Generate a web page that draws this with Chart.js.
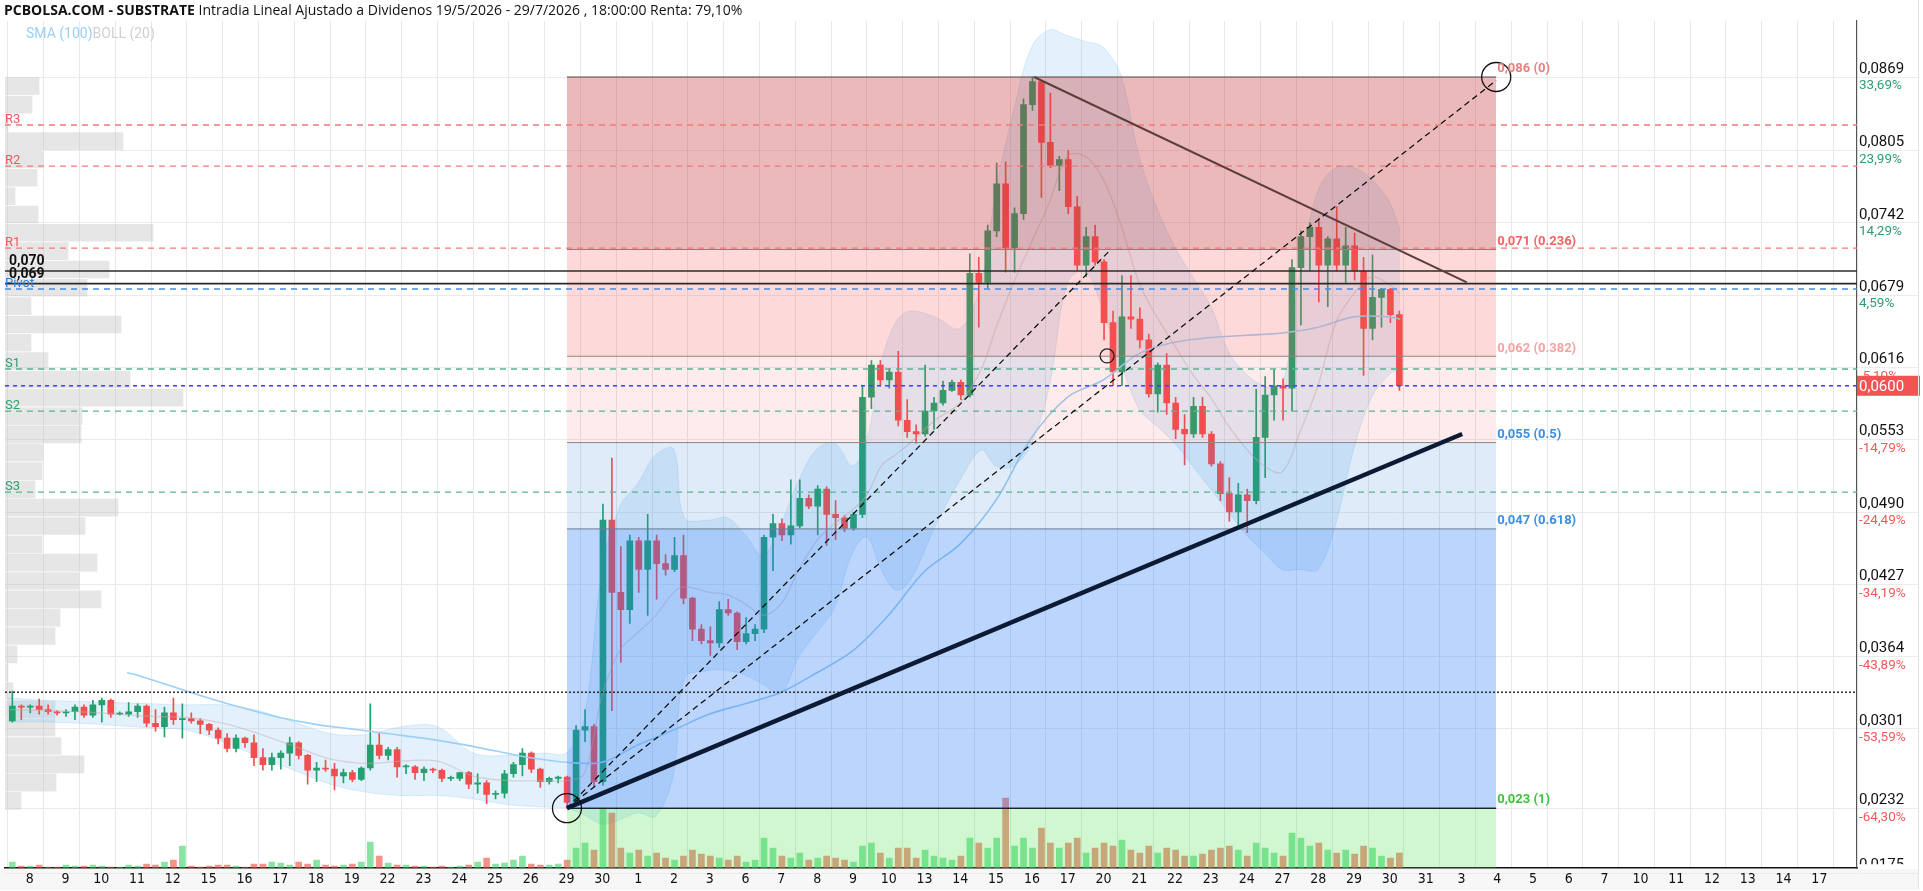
<!DOCTYPE html>
<html><head><meta charset="utf-8">
<script src="https://cdn.jsdelivr.net/npm/chart.js@4.4.1/dist/chart.umd.min.js"></script>
<style>html,body{margin:0;padding:0;background:#fff;overflow:hidden}#wrap{position:relative;width:1923px;height:891px}</style>
</head><body><div id="wrap"><canvas id="c" width="1923" height="891"></canvas></div>
<script>
// ---------------- DATA ----------------
const dayLabels = ['8','9','10','11','12','15','16','17','18','19','22','23','24','25','26','29','30','1','2','3','6','7','8','9','10','13','14','15','16','17','20','21','22','23','24','27','28','29','30','31','3','4','5','6','7','10','11','12','13','14','17'];

const candleOpen = [
.0308,.0321,.0320,.0321, .0318,.0316,.0315,.0316, .0320,.0313,.0322,.0326, .0314,.0314,.0316,.0321,
.0306,.0303,.0315,.0309, .0310,.0308,.0305,.0300, .0293,.0284,.0293,.0289, .0276,.0270,.0276,.0280,
.0289,.0278,.0265,.0267, .0266,.0260,.0263,.0257, .0267,.0287,.0278,.0283, .0268,.0268,.0263,.0266,
.0265,.0258,.0258,.0263, .0253,.0254,.0244,.0245, .0262,.0270,.0280,.0266, .0255,.0258,.0259,.0237,
.0300,.0303,.0255,.0483, .0420,.0405,.0465,.0440, .0465,.0445,.0440,.0452, .0415,.0388,.0378,.0376,
.0405,.0402,.0377,.0384, .0388,.0468,.0480,.0470, .0478,.0502,.0495,.0510, .0488,.0485,.0476,.0488,
.0590,.0618,.0605,.0612, .0570,.0560,.0558,.0578, .0585,.0596,.0603,.0592, .0698,.0690,.0735,.0776,
.0720,.0750,.0845,.0865, .0812,.0792,.0797,.0756, .0705,.0730,.0708,.0655, .0612,.0660,.0658,.0640,
.0593,.0618,.0585,.0562, .0558,.0582,.0558,.0532, .0506,.0490,.0505,.0500, .0555,.0592,.0600,.0598,
.0703,.0730,.0738,.0705, .0728,.0705,.0722,.0700, .0650,.0677,.0684,.0662];
const candleHigh = [
.0334,.0322,.0322,.0327, .0322,.0317,.0318,.0322, .0322,.0326,.0328,.0327, .0316,.0324,.0323,.0322,
.0318,.0320,.0328,.0323, .0315,.0310,.0306,.0302, .0297,.0296,.0294,.0296, .0284,.0280,.0282,.0294,
.0290,.0279,.0272,.0274, .0271,.0266,.0265,.0268, .0323,.0297,.0285,.0285, .0270,.0269,.0268,.0267,
.0266,.0260,.0263,.0264, .0262,.0256,.0247,.0265, .0272,.0284,.0281,.0267, .0259,.0260,.0260,.0304,
.0318,.0305,.0497,.0537, .0460,.0470,.0468,.0488, .0470,.0453,.0468,.0470, .0416,.0392,.0390,.0412,
.0414,.0403,.0398,.0392, .0470,.0488,.0484,.0518, .0518,.0505,.0513,.0512, .0500,.0487,.0490,.0600,
.0622,.0622,.0615,.0630, .0588,.0566,.0618,.0590, .0604,.0605,.0605,.0715, .0712,.0740,.0794,.0795,
.0755,.0850,.0869,.0866, .0855,.0800,.0805,.0765, .0738,.0740,.0710,.0665, .0696,.0696,.0668,.0645,
.0620,.0628,.0590,.0575, .0590,.0590,.0560,.0534, .0520,.0515,.0510,.0597, .0608,.0614,.0606,.0710,
.0735,.0742,.0746,.0730, .0756,.0738,.0733,.0712, .0714,.0685,.0685,.0665];
const candleLow = [
.0307,.0309,.0315,.0314, .0314,.0313,.0312,.0309, .0311,.0311,.0307,.0311, .0313,.0312,.0311,.0303,
.0299,.0294,.0305,.0293, .0306,.0297,.0296,.0288, .0281,.0281,.0285,.0269, .0265,.0265,.0266,.0269,
.0275,.0253,.0255,.0264, .0248,.0254,.0255,.0256, .0265,.0275,.0274,.0259, .0262,.0257,.0256,.0263,
.0255,.0256,.0256,.0249, .0245,.0236,.0240,.0241, .0259,.0260,.0263,.0250, .0253,.0254,.0232,.0235,
.0290,.0251,.0252,.0317, .0359,.0393,.0420,.0400, .0414,.0435,.0438,.0410, .0378,.0375,.0365,.0372,
.0400,.0370,.0375,.0378, .0385,.0439,.0465,.0462, .0476,.0493,.0470,.0461, .0466,.0473,.0474,.0485,
.0580,.0600,.0598,.0565, .0555,.0550,.0556,.0562, .0583,.0595,.0588,.0590, .0651,.0685,.0730,.0699,
.0699,.0745,.0840,.0764, .0790,.0770,.0750,.0700, .0695,.0705,.0640,.0600, .0600,.0650,.0633,.0590,
.0577,.0575,.0554,.0531, .0555,.0555,.0530,.0500, .0482,.0476,.0472,.0497, .0520,.0570,.0570,.0578,
.0653,.0700,.0673,.0669, .0700,.0690,.0692,.0609, .0640,.0651,.0655,.0596];
const candleClose = [
.0321,.0320,.0321,.0318, .0316,.0315,.0316,.0320, .0313,.0322,.0326,.0314, .0314,.0316,.0321,.0306,
.0303,.0315,.0309,.0310, .0308,.0305,.0300,.0293, .0284,.0293,.0289,.0276, .0270,.0276,.0280,.0289,
.0278,.0265,.0267,.0266, .0260,.0263,.0257,.0267, .0287,.0278,.0283,.0268, .0268,.0263,.0266,.0265,
.0258,.0258,.0263,.0253, .0254,.0244,.0245,.0262, .0270,.0280,.0266,.0255, .0258,.0259,.0237,.0300,
.0303,.0255,.0483,.0420, .0405,.0465,.0440,.0465, .0445,.0440,.0452,.0415, .0388,.0378,.0376,.0405,
.0402,.0377,.0384,.0388, .0468,.0480,.0470,.0478, .0502,.0495,.0510,.0488, .0485,.0476,.0488,.0590,
.0618,.0605,.0612,.0570, .0560,.0558,.0578,.0585, .0596,.0603,.0592,.0698, .0690,.0735,.0776,.0720,
.0750,.0845,.0865,.0812, .0792,.0797,.0756,.0705, .0730,.0708,.0655,.0612, .0660,.0658,.0640,.0593,
.0618,.0585,.0562,.0558, .0582,.0558,.0532,.0506, .0490,.0505,.0500,.0555, .0592,.0600,.0598,.0703,
.0730,.0738,.0705,.0728, .0705,.0722,.0700,.0650, .0677,.0684,.0662,.0600];
const candleVolume = [
6,2,2,3, 1,1,3,2, 2,3,2,1, 1,3,2,4, 3,6,8,22, 2,1,2,3, 3,2,1,4, 4,6,5,3,
6,4,8,3, 2,3,4,6, 26,12,5,3, 3,2,2,1, 2,1,2,3, 6,10,4,5, 8,12,4,3, 3,4,8,20,
25,18,60,55, 20,15,18,12, 15,10,8,12, 18,14,12,10, 8,12,6,8, 30,20,12,10, 15,8,10,12, 10,8,6,22,
25,15,10,20, 20,10,18,12, 10,8,12,30, 25,20,30,70, 22,30,20,40, 25,20,25,30, 15,20,25,22, 28,18,15,22,
15,20,18,12, 12,14,18,20, 22,18,12,25, 20,15,12,35, 30,22,25,18, 15,18,14,22, 20,12,10,15];

// SMA(100)
const smaDay = [2.73,3,4,5,6,7,8,9,10,11,12,13,14,15,16,17,18,19,20,21,22,23,24,25,26,27,28,29,30,31,32,33,34,35,36,37,38,38.3];
const smaVal = [.0350,.0348,.0338,.0328,.0319,.0311,.0305,.0301,.0297,.0293,.0288,.0282,.0276,.0272,.0272,.0287,.0300,.0314,.0323,.0333,.0350,.0369,.0400,.0438,.0462,.0500,.0555,.0590,.0605,.0628,.0638,.0642,.0644,.0646,.0651,.0660,.0660,.0658];

// Bollinger (20)
const bbDay = [-0.6,0.4,1.4,2.4,3.4,4.4,5.4,6.4,7.4,8.4,9.4,10.4,11.4,12.4,13.4,14.4,15.0,15.5,16.0,16.5,17.0,17.5,18.0,18.3,19.0,19.5,20.0,20.5,21.0,21.5,22.0,22.5,23.0,23.4,23.8,24.2,24.6,25.3,26.0,26.6,27.0,27.5,28.0,28.5,29.0,29.5,30.0,30.5,31.0,31.5,32.0,32.5,33.0,33.5,34.0,34.5,35.0,35.5,36.0,36.5,37.0,37.5,38.0,38.3];
const bbUpper = [.0328,.0326,.0325,.0324,.0323,.0322,.0322,.0317,.0307,.0297,.0296,.0303,.0303,.0280,.0278,.0280,.0280,.0310,.0440,.0495,.0515,.0540,.0545,.0485,.0483,.0485,.0470,.0452,.0480,.0518,.0545,.0550,.0530,.0553,.0620,.0655,.0665,.0660,.0650,.0690,.0770,.0840,.0895,.0910,.0905,.0900,.0895,.0870,.0800,.0755,.0721,.0695,.0670,.0630,.0610,.0600,.0600,.0700,.0770,.0790,.0790,.0780,.0760,.0735];
const bbMiddle = [.0318,.0317,.0316,.0314,.0312,.0311,.0306,.0297,.0286,.0275,.0271,.0273,.0273,.0260,.0256,.0256,.0256,.0262,.0330,.0370,.0385,.0400,.0420,.0425,.0420,.0418,.0410,.0400,.0410,.0440,.0465,.0480,.0492,.0505,.0530,.0540,.0550,.0570,.0585,.0615,.0650,.0690,.0725,.0760,.0800,.0800,.0780,.0740,.0690,.0660,.0635,.0610,.0590,.0565,.0545,.0530,.0525,.0560,.0600,.0655,.0680,.0695,.0688,.0680];
const bbLower = [.0307,.0307,.0306,.0304,.0302,.0300,.0290,.0277,.0265,.0253,.0246,.0243,.0243,.0240,.0235,.0233,.0232,.0226,.0218,.0222,.0228,.0225,.0262,.0345,.0352,.0352,.0348,.0340,.0332,.0364,.0385,.0407,.0455,.0468,.0440,.0422,.0430,.0477,.0518,.0544,.0530,.0530,.0550,.0600,.0690,.0700,.0665,.0620,.0580,.0565,.0550,.0530,.0510,.0490,.0470,.0455,.0440,.0440,.0440,.0480,.0545,.0590,.0610,.0615];

// Volume profile (price bins and relative volume)
const profPrice = [.08610,.08450,.08291,.08131,.07971,.07812,.07652,.07492,.07333,.07173,.07013,.06854,.06694,.06534,.06375,.06215,.06055,.05896,.05736,.05576,.05417,.05257,.05097,.04938,.04778,.04618,.04459,.04299,.04139,.03980,.03820,.03660,.03501,.03341,.03181,.03022,.02862,.02702,.02543,.02383];
const profVolume = [34,27,3,118,38,32,10,33,148,63,104,82,26,116,26,43,125,178,77,76,38,37,30,113,80,37,92,74,96,55,50,12,3,8,50,50,56,79,51,16];

// Right axis ticks
const priceTicks = [.0869,.0805,.0742,.0679,.0616,.0553,.0490,.0427,.0364,.0301,.0232,.0175];
const priceTickPct = ['33,69%','23,99%','14,29%','4,59%','-5,10%','-14,79%','-24,49%','-34,19%','-43,89%','-53,59%','-64,30%','-73,07%'];

// Fibonacci retracement
const fibStart = [15.02, 0.0232];
const fibEnd = [40.98, 0.0869];
const fibPrices = [0.0869, 0.07187, 0.06257, 0.05505, 0.04753, 0.0232];
const fibText = ['0,086 (0)','0,071 (0.236)','0,062 (0.382)','0,055 (0.5)','0,047 (0.618)','0,023 (1)'];

// Pivot points
const pivotNames = ['R3','R2','R1','Pivot','S1','S2','S3'];
const pivotPrices = [0.08272, 0.07914, 0.07200, 0.06843, 0.06146, 0.05780, 0.05074];
// Horizontal user lines
const userLines = [0.0700, 0.0689];
const userLineText = ['0,070','0,069'];
const lastPrice = 0.0600;
const dottedLevel = 0.0333;
// Trend lines [x0,y0,x1,y1]
const thickTrend = [15.02, 0.0232, 40.03, 0.0558];
const dashTrend1 = [15.02, 0.0232, 30.19, 0.0718];
const dashTrend2 = [15.02, 0.0232, 40.98, 0.0866];
const downTrend = [28.07, 0.0869, 40.16, 0.0690];
const smallMarker = [30.11, 0.0626];

// ---------------- CHART ----------------
const X_MIN = -0.68, X_MAX = 51.06;
const GREEN = '#23a06d', RED = '#f14f4f';
const candleX = candleOpen.map((_, i) => Math.floor(i / 4) - 0.6 + ((i % 4) + 0.5) * 0.25);
const isUp = candleOpen.map((o, i) => candleClose[i] >= o);

const hline = (y, color, width, dash, order) => ({
  type: 'line', data: [{x: X_MIN, y}, {x: X_MAX, y}], borderColor: color, borderWidth: width,
  borderDash: dash, pointRadius: 0, fill: false, order
});
const seg = (a, color, width, dash, order) => ({
  type: 'line', data: [{x: a[0], y: a[1]}, {x: a[2], y: a[3]}], borderColor: color, borderWidth: width,
  borderDash: dash, pointRadius: 0, fill: false, order
});

const zoneFill = ['rgba(200,60,60,0.36)','rgba(250,80,80,0.22)','rgba(250,80,80,0.11)','rgba(60,130,220,0.16)','rgba(40,120,245,0.31)'];
const zoneLine = ['#5a4444','#8a8a8a','#8a8a8a','#8a8a8a','#6f7b8a'];

const datasets = [];
datasets.push({type: 'bar', indexAxis: 'y', xAxisID: 'xProf', yAxisID: 'y', grouped: false,
  data: profPrice.map((p, i) => ({y: p, x: profVolume[i]})), backgroundColor: 'rgba(190,190,190,0.38)',
  barThickness: 17, borderWidth: 0, order: 100});
datasets.push({type: 'line', data: bbDay.map((d, i) => ({x: d, y: bbUpper[i]})), borderColor: 'rgba(120,190,240,0.25)',
  borderWidth: 1, pointRadius: 0, tension: 0.35, fill: '+1', backgroundColor: 'rgba(110,185,240,0.2)', order: 95});
datasets.push({type: 'line', data: bbDay.map((d, i) => ({x: d, y: bbLower[i]})), borderColor: 'rgba(120,190,240,0.25)',
  borderWidth: 1, pointRadius: 0, tension: 0.35, fill: false, order: 95});
datasets.push({type: 'bar', xAxisID: 'x', yAxisID: 'yVol', grouped: false,
  data: candleX.map((x, i) => ({x, y: candleVolume[i]})),
  backgroundColor: isUp.map(u => u ? 'rgba(40,205,90,0.55)' : 'rgba(235,75,60,0.6)'), barThickness: 6, borderWidth: 0, order: 90});
datasets.push({type: 'bar', xAxisID: 'x', yAxisID: 'y', grouped: false,
  data: candleX.map((x, i) => ({x, y: [candleLow[i], candleHigh[i]]})),
  backgroundColor: isUp.map(u => u ? GREEN : RED), barThickness: 1, borderWidth: 0, order: 80});
datasets.push({type: 'bar', xAxisID: 'x', yAxisID: 'y', grouped: false,
  data: candleX.map((x, i) => ({x, y: [candleOpen[i], candleClose[i]]})),
  backgroundColor: isUp.map(u => u ? GREEN : RED), barThickness: 6, minBarLength: 1, borderWidth: 0, order: 79});
datasets.push({type: 'line', data: bbDay.map((d, i) => ({x: d, y: bbMiddle[i]})), borderColor: 'rgba(200,170,170,0.45)',
  borderWidth: 1.3, pointRadius: 0, tension: 0.35, fill: false, order: 70});
datasets.push({type: 'line', data: smaDay.map((d, i) => ({x: d, y: smaVal[i]})), borderColor: '#9dd0f7',
  borderWidth: 1.6, pointRadius: 0, tension: 0.35, fill: false, order: 70});
for (let i = 0; i < 5; i++) {
  datasets.push({type: 'line', data: [{x: fibStart[0], y: fibPrices[i]}, {x: fibEnd[0], y: fibPrices[i]}],
    borderColor: zoneLine[i], borderWidth: 1, pointRadius: 0, fill: {value: fibPrices[i + 1]},
    backgroundColor: zoneFill[i], order: 60});
}
datasets.push({type: 'line', data: [{x: fibStart[0], y: fibPrices[5]}, {x: fibEnd[0], y: fibPrices[5]}],
  borderColor: '#1c1c1c', borderWidth: 1.5, pointRadius: 0, fill: 'start', backgroundColor: 'rgba(70,225,70,0.25)', order: 60});
const pivotColor = ['#f27a7a','#f27a7a','#f27a7a','#4a8fe0','#5cb38f','#5cb38f','#5cb38f'];
const pivotTextColor = ['#f05a5a','#f05a5a','#f05a5a','#2f7fdc','#2e9e6e','#2e9e6e','#2e9e6e'];
pivotPrices.forEach((p, i) => datasets.push(hline(p, pivotColor[i], 1.3, [6, 5], 50)));
userLines.forEach(p => datasets.push(hline(p, '#2b2b2b', 1.6, [], 49)));
datasets.push(hline(lastPrice, '#4444f0', 1.6, [4, 4], 49));
datasets.push(hline(dottedLevel, '#333', 1.6, [2, 2], 49));
datasets.push(seg(thickTrend, '#0d1a33', 4.5, [], 40));
datasets.push(seg(dashTrend1, '#111', 1.3, [6, 4], 40));
datasets.push(seg(dashTrend2, '#111', 1.3, [6, 4], 40));
datasets.push(seg(downTrend, '#5b3d3d', 2, [], 40));
datasets.push({type: 'scatter', data: [{x: fibStart[0], y: fibStart[1]}, {x: fibEnd[0], y: fibEnd[1]}],
  pointRadius: 14.5, pointBackgroundColor: 'rgba(0,0,0,0)', pointBorderColor: '#111', pointBorderWidth: 1.3, order: 30});
datasets.push({type: 'scatter', data: [{x: smallMarker[0], y: smallMarker[1]}],
  pointRadius: 7, pointBackgroundColor: 'rgba(0,0,0,0)', pointBorderColor: '#222', pointBorderWidth: 1.3, order: 30});

const overlay = {
  id: 'overlay',
  beforeDraw(chart) {
    const c = chart.ctx;
    c.save();
    c.fillStyle = '#fff'; c.fillRect(0, 0, chart.width, chart.height);
    c.fillStyle = '#f7f7f7'; c.fillRect(0, 869, 1919, 21);
    c.restore();
  },
  afterDraw(chart) {
    const c = chart.ctx, xs = chart.scales.x, ys = chart.scales.y, area = chart.chartArea;
    c.save();
    c.textBaseline = 'middle';
    c.fillStyle = '#111';
    c.font = 'bold 14px "Open Sans"';
    const t1 = 'PCBOLSA.COM - SUBSTRATE';
    c.fillText(t1, 4, 11);
    const w1 = c.measureText(t1).width;
    c.font = '14px "Open Sans"';
    c.fillText(' Intradia Lineal Ajustado a Dividenos 19/5/2026 - 29/7/2026 , 18:00:00 Renta: 79,10%', 4 + w1, 11);
    c.font = '14px Roboto';
    c.fillStyle = '#9ad0f6'; c.fillText('SMA (100)', 26, 34);
    const ws = c.measureText('SMA (100)').width;
    c.fillStyle = '#d0d0d0'; c.fillText('BOLL (20)', 26 + ws, 34);
    c.font = '13px Roboto';
    pivotNames.forEach((n, i) => { c.fillStyle = pivotTextColor[i];
      c.fillText(n, area.left, ys.getPixelForValue(pivotPrices[i]) - 5); });
    c.font = 'bold 14px Roboto'; c.fillStyle = '#111';
    userLines.forEach((p, i) => c.fillText(userLineText[i], area.left + 4, ys.getPixelForValue(p) - 9));
    const fibColors = ['#e88080','#f26464','#f5a3a3','#3b8ee2','#3b8ee2','#3fc23f'];
    c.font = 'bold 13px Roboto';
    fibPrices.forEach((p, i) => { c.fillStyle = fibColors[i]; c.fillText(fibText[i], xs.getPixelForValue(fibEnd[0]) + 1, ys.getPixelForValue(p) - 8); });
    c.save();
    c.beginPath(); c.rect(area.right, 0, 80, area.bottom - 4); c.clip();
    priceTicks.forEach((v, i) => {
      const y = ys.getPixelForValue(v);
      c.font = '15px Roboto'; c.fillStyle = '#111';
      c.fillText(v.toFixed(4).replace('.', ','), area.right + 2, y - 8);
      c.font = '13.5px Roboto'; c.fillStyle = priceTickPct[i][0] === '-' ? '#f05a5a' : '#2e9e72';
      c.fillText(priceTickPct[i], area.right + 2, y + 9);
    });
    c.restore();
    const yl = ys.getPixelForValue(lastPrice);
    c.fillStyle = '#f25454'; c.fillRect(area.right, yl - 10, 63, 20);
    c.fillStyle = '#fff'; c.font = '15px Roboto';
    c.fillText(lastPrice.toFixed(4).replace('.', ','), area.right + 2, yl + 1);
    c.strokeStyle = '#e3e3e3'; c.lineWidth = 1;
    c.beginPath(); c.moveTo(1918.5, 0); c.lineTo(1918.5, 889); c.stroke();
    c.restore();
  }
};

new Chart(document.getElementById('c'), {
  type: 'line',
  data: {datasets},
  options: {
    responsive: false, animation: false, devicePixelRatio: 1,
    layout: {padding: {left: 5, right: 5, top: 21, bottom: 0}, autoPadding: false},
    plugins: {legend: {display: false}, tooltip: {enabled: false}},
    scales: {
      x: {type: 'linear', min: X_MIN, max: X_MAX, offset: false, position: 'bottom',
        afterBuildTicks: s => { s.ticks = [{value: -0.6}].concat(dayLabels.map((_, k) => ({value: k + 0.4}))); },
        ticks: {autoSkip: false, maxRotation: 0, padding: 3, labelOffset: -14, color: '#111',
          font: {family: '"Liberation Sans Narrow", "DejaVu Sans Condensed", "Roboto Condensed", Roboto', size: 14},
          callback: v => { const k = Math.round(v - 0.4); return dayLabels[k] !== undefined ? dayLabels[k] : ''; }},
        grid: {color: '#e8e8e8', drawTicks: false, offset: false},
        border: {display: true, color: '#111', width: 1.5}},
      y: {type: 'linear', position: 'right', min: 0.01797, max: 0.09178, offset: false, beginAtZero: false,
        afterBuildTicks: s => { s.ticks = priceTicks.slice().reverse().map(v => ({value: v})); },
        ticks: {display: false},
        grid: {color: '#ebebeb', drawTicks: true, tickLength: 61, offset: false},
        border: {display: true, color: '#555', width: 1.2}},
      yVol: {type: 'linear', display: false, min: 0, max: 847},
      xProf: {type: 'linear', display: false, min: 0, max: 1852, offset: false}
    }
  },
  plugins: [overlay]
});
</script>
</body></html>
